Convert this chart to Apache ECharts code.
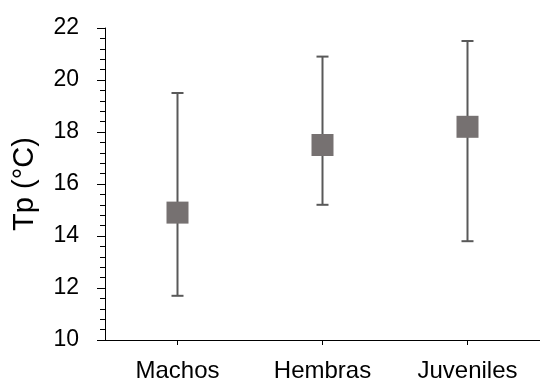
<!DOCTYPE html>
<html>
<head>
<meta charset="utf-8">
<script src="https://cdn.jsdelivr.net/npm/echarts@6/dist/echarts.min.js"></script>
<style>
html,body{margin:0;padding:0;background:#fff;}
#chart{width:540px;height:383px;}
</style>
</head>
<body>
<div id="chart"></div>
<script>
var categories = ['Machos', 'Hembras', 'Juveniles'];
var means = [14.9, 17.5, 18.2];
var lowerValues = [11.7, 15.2, 13.8];
var upperValues = [19.5, 20.9, 21.5];
var yTicks = [10, 12, 14, 16, 18, 20, 22];

var errData = categories.map(function (c, i) { return [i, lowerValues[i], upperValues[i]]; });
var meanData = categories.map(function (c, i) { return [i, means[i]]; });

var chart = echarts.init(document.getElementById('chart'), null, {renderer: 'canvas'});
var font = 'Liberation Sans, Arial, sans-serif';
chart.setOption({
  animation: false,
  backgroundColor: '#ffffff',
  grid: {left: 105, top: 28, bottom: 42, width: 438, containLabel: false},
  xAxis: {
    type: 'category',
    data: categories,
    boundaryGap: true,
    axisLine: {lineStyle: {color: '#000', width: 1}},
    axisTick: {show: true, alignWithLabel: true, length: 5, lineStyle: {color: '#000'}},
    axisLabel: {color: '#000', fontSize: 24, fontFamily: font, margin: 19}
  },
  yAxis: {
    type: 'value',
    min: yTicks[0],
    max: yTicks[yTicks.length - 1],
    interval: 2,
    name: 'Tp (°C)',
    nameLocation: 'middle',
    nameRotate: 90,
    nameGap: 66,
    nameTextStyle: {color: '#000', fontSize: 29, fontFamily: font},
    axisLine: {show: true, lineStyle: {color: '#000', width: 1}},
    axisTick: {show: true, length: 8, lineStyle: {color: '#000'}},
    minorTick: {show: true, splitNumber: 5, length: 5, lineStyle: {color: '#000'}},
    splitLine: {show: false},
    axisLabel: {color: '#000', fontSize: 23, fontFamily: font, margin: 26}
  },
  series: [
    {
      type: 'custom',
      data: errData,
      z: 2,
      renderItem: function (params, api) {
        var x = api.value(0);
        var lo = api.coord([x, api.value(1)]);
        var hi = api.coord([x, api.value(2)]);
        var hw = 6;
        var st = {stroke: '#595959', lineWidth: 2};
        return {
          type: 'group',
          children: [
            {type: 'line', shape: {x1: lo[0], y1: lo[1], x2: hi[0], y2: hi[1]}, style: st},
            {type: 'line', shape: {x1: lo[0] - hw, y1: lo[1], x2: lo[0] + hw, y2: lo[1]}, style: st},
            {type: 'line', shape: {x1: hi[0] - hw, y1: hi[1], x2: hi[0] + hw, y2: hi[1]}, style: st}
          ]
        };
      }
    },
    {
      type: 'scatter',
      data: meanData,
      symbol: 'rect',
      symbolSize: 22,
      z: 3,
      itemStyle: {color: '#767171', opacity: 1}
    }
  ]
});
</script>
</body>
</html>
